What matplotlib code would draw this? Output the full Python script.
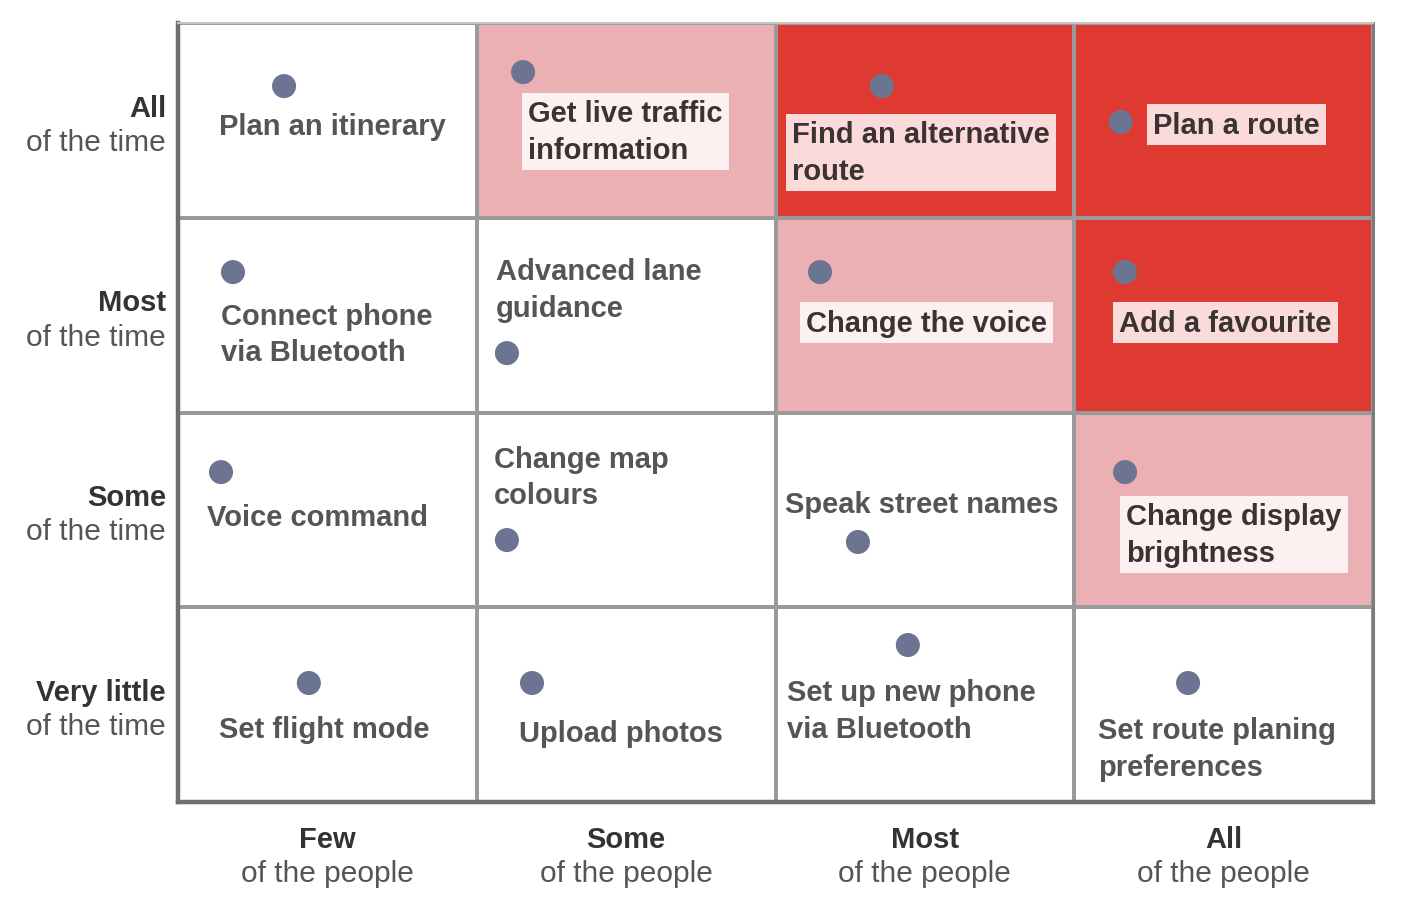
import matplotlib
matplotlib.use("Agg")
import matplotlib.pyplot as plt
from matplotlib.colors import ListedColormap
import numpy as np

# row labels (bottom to top) and column labels (left to right)
row_bold = ["Very little", "Some", "Most", "All"]
col_bold = ["Few", "Some", "Most", "All"]

# heat level of each cell, rows bottom to top: 0 white, 1 pink, 2 red
levels = np.array([
    [0, 0, 0, 0],
    [0, 0, 0, 1],
    [0, 0, 1, 2],
    [0, 1, 2, 2],
])

# tasks: label, dot position, label anchor (left, centre) in grid units
tasks = [
    "Plan an itinerary", "Get live traffic\ninformation", "Find an alternative\nroute", "Plan a route",
    "Connect phone\nvia Bluetooth", "Advanced lane\nguidance", "Change the voice", "Add a favourite",
    "Voice command", "Change map\ncolours", "Speak street names", "Change display\nbrightness",
    "Set flight mode", "Upload photos", "Set up new phone\nvia Bluetooth", "Set route planing\npreferences",
]
dot_x = [0.355, 1.155, 2.356, 3.156, 0.184, 1.101, 2.149, 3.170,
         0.144, 1.101, 2.276, 3.170, 0.438, 1.185, 2.443, 3.381]
dot_y = [3.676, 3.748, 3.676, 3.492, 2.721, 2.305, 2.721, 2.721,
         1.694, 1.345, 1.335, 1.694, 0.611, 0.611, 0.806, 0.611]
lab_x = [0.137, 1.172, 2.055, 3.264, 0.144, 1.064, 2.102, 3.150,
         0.097, 1.058, 2.032, 3.173, 0.137, 1.141, 2.038, 3.079]
lab_y = [3.472, 3.443, 3.335, 3.477, 2.403, 2.631, 2.460, 2.460,
         1.464, 1.669, 1.531, 1.374, 0.375, 0.355, 0.468, 0.273]

cell_colors = ["#ffffff", "#ebb0b4", "#de3a31"]
box_colors = {1: "#fcf0f0", 2: "#fadbd9"}

plt.rcParams['font.family'] = ['Liberation Sans', 'DejaVu Sans']

fig = plt.figure(figsize=(14.06, 9.04), dpi=100)
ax = fig.add_axes([178 / 1406, 101 / 904, 1195 / 1406, 779 / 904])

ax.pcolormesh(np.arange(5), np.arange(5), levels, cmap=ListedColormap(cell_colors),
              vmin=-0.5, vmax=2.5, edgecolors="#9a9a9a", linewidth=1.6)
ax.set_xlim(0, 4)
ax.set_ylim(0, 4)
ax.set_xticks([])
ax.set_yticks([])
ax.spines["left"].set(color="#6f6f6f", linewidth=3.2)
ax.spines["bottom"].set(color="#6f6f6f", linewidth=3.2)
ax.spines["right"].set(color="#7c7c7c", linewidth=2.2)
ax.spines["top"].set(color="#c4c4c4", linewidth=1.6)

ax.scatter(dot_x, dot_y, s=300, color="#6b7591", zorder=4, edgecolors="none")

for i, txt in enumerate(tasks):
    lvl = levels[int(lab_y[i]), int(lab_x[i])]
    kw = dict(ha="left", va="center", fontsize=21, fontweight="bold",
              linespacing=1.4, zorder=5)
    if lvl > 0:
        kw["bbox"] = dict(boxstyle="square,pad=0.22", facecolor=box_colors[lvl], edgecolor="none")
        kw["color"] = "#3b3333"
    else:
        kw["color"] = "#555555"
    ax.text(lab_x[i], lab_y[i], txt, **kw)

for r, name in enumerate(row_bold):
    ax.text(-0.04, r + 0.565, name, ha="right", va="center", fontsize=21,
            fontweight="bold", color="#333333", clip_on=False)
    ax.text(-0.04, r + 0.39, "of the time", ha="right", va="center", fontsize=21.5,
            color="#555555", clip_on=False)

for c, name in enumerate(col_bold):
    ax.text(c + 0.5, -0.19, name, ha="center", va="center", fontsize=21,
            fontweight="bold", color="#333333", clip_on=False)
    ax.text(c + 0.5, -0.364, "of the people", ha="center", va="center", fontsize=21.5,
            color="#555555", clip_on=False)

fig.savefig("out.png", dpi=100)
